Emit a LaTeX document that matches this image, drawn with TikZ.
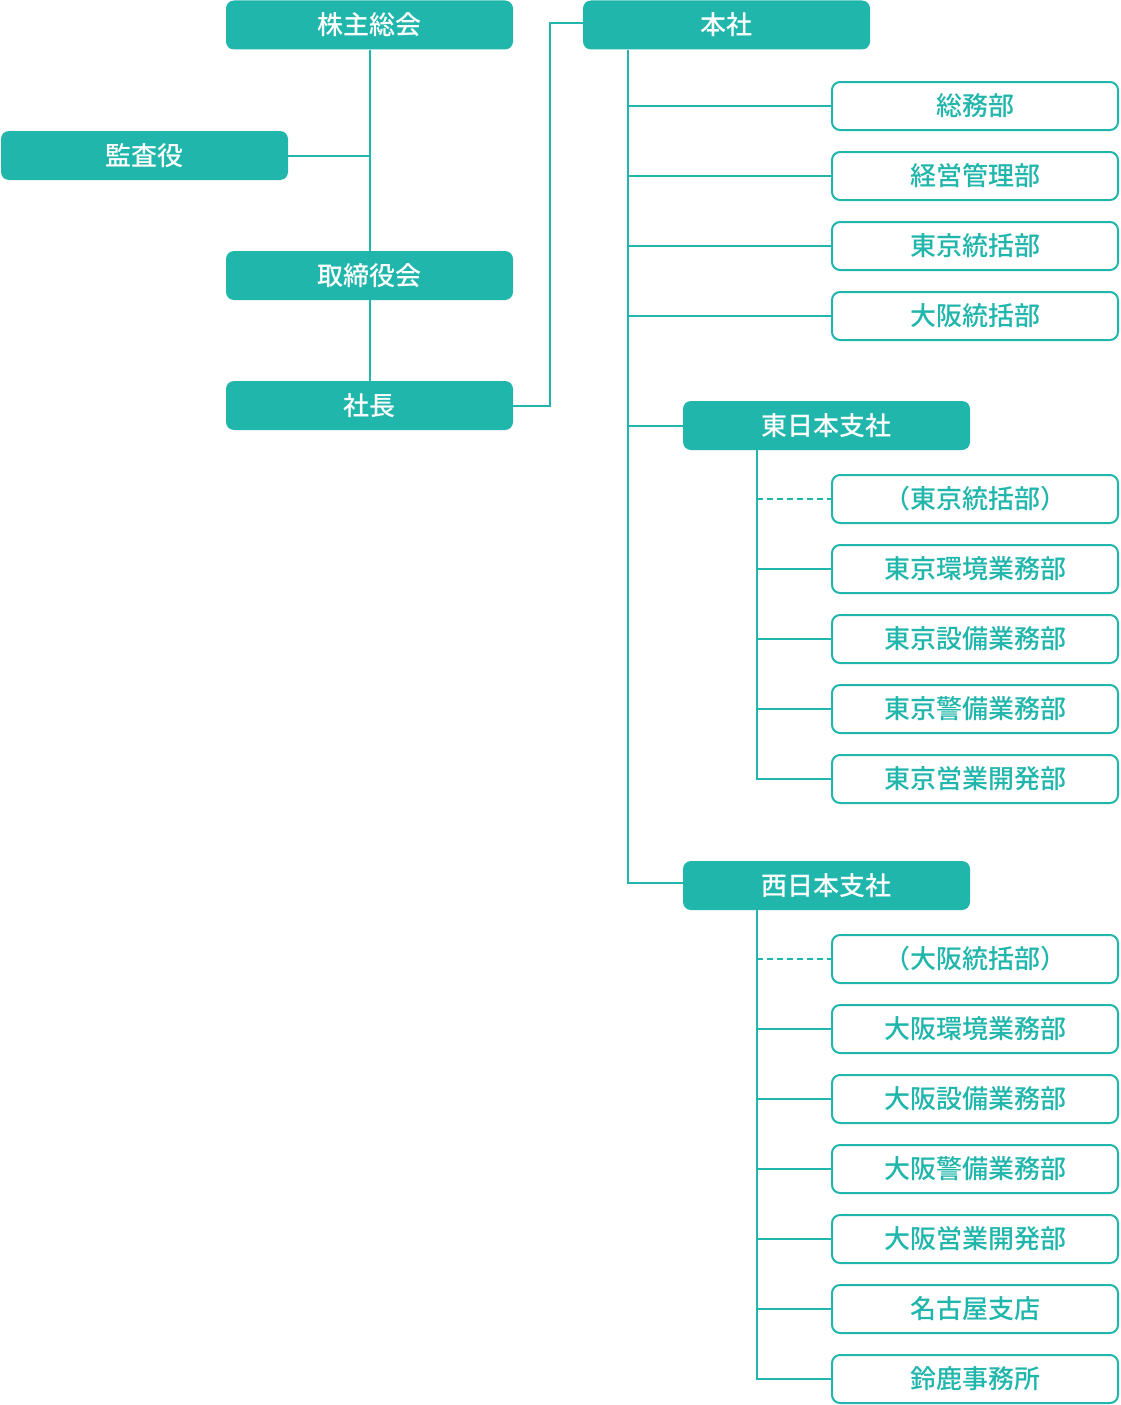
\documentclass[tikz,border=0pt]{standalone}
\usepackage{fontspec}
\setmainfont{Noto Sans CJK JP}[BoldFont={Noto Sans CJK JP Medium}]
\usetikzlibrary{positioning}
\definecolor{orgteal}{RGB}{33,182,172}
\tikzset{
  headbox/.style={
    fill=orgteal,
    rounded corners=8pt,
    inner sep=0pt,
    minimum width=287pt,
    minimum height=49pt,
    text=white,
    font=\fontsize{26}{30}\selectfont\bfseries
  },
  deptbox/.style={
    draw=orgteal,
    line width=2pt,
    fill=white,
    rounded corners=8pt,
    inner sep=0pt,
    minimum width=286pt,
    minimum height=48pt,
    text=orgteal,
    font=\fontsize{26}{30}\selectfont\bfseries
  },
  link/.style={
    draw=orgteal,
    line width=2pt
  }
}

\begin{document}
\begin{tikzpicture}[x=1pt,y=-1pt]
    \useasboundingbox (0,0) rectangle (1120,1405);
    % left column
    \node[headbox] (kabu) at (369.5,25) {株主総会};
    \node[headbox] (kansa) at (144.5,155.5) {監査役};
    \node[headbox] (tori) at (369.5,275.5) {取締役会};
    \node[headbox] (shacho) at (369.5,405.5) {社長};
    % head office and branches
    \node[headbox] (honsha) at (726.5,25) {本社};
    \node[headbox] (east) at (826.5,425.5) {東日本支社};
    \node[headbox] (west) at (826.5,885.5) {西日本支社};
    \foreach \name/\y/\txt in {h1/106/総務部, h2/176/経営管理部, h3/246/東京統括部, h4/316/大阪統括部,
        e0/499/（東京統括部）, e1/569/東京環境業務部, e2/639/東京設備業務部, e3/709/東京警備業務部, e4/779/東京営業開発部,
        w0/959/（大阪統括部）, w1/1029/大阪環境業務部, w2/1099/大阪設備業務部, w3/1169/大阪警備業務部, w4/1239/大阪営業開発部,
        w5/1309/名古屋支店, w6/1379/鈴鹿事務所}{
            \node[deptbox] (\name) at (975,\y) {\txt};
        }
    % connectors
    \draw[link] (kabu) -- (tori);
    \draw[link] (tori) -- (shacho);
    \draw[link] (kansa.east) -- (kansa.east -| kabu.south);
    \draw[link] (shacho.east) -- ++(37,0) |- ([yshift=2pt]honsha.west);
    \coordinate (spine) at ([xshift=45pt]honsha.south west);
    \draw[link] (spine) |- ([yshift=3pt]west.west);
    \draw[link] (spine |- east.west) -- (east.west);
    \foreach \name in {h1,h2,h3,h4}{
            \draw[link] (spine |- \name.west) -- (\name.west);
        }
    \coordinate (espine) at ([xshift=74pt]east.south west);
    \draw[link] (espine) |- (e4.west);
    \draw[link,dash pattern=on 6pt off 4pt] (espine |- e0.west) -- (e0.west);
    \foreach \name in {e1,e2,e3}{
            \draw[link] (espine |- \name.west) -- (\name.west);
        }
    \coordinate (wspine) at ([xshift=74pt]west.south west);
    \draw[link] (wspine) |- (w6.west);
    \draw[link,dash pattern=on 6pt off 4pt] (wspine |- w0.west) -- (w0.west);
    \foreach \name in {w1,w2,w3,w4,w5}{
            \draw[link] (wspine |- \name.west) -- (\name.west);
        }
\end{tikzpicture}
\end{document}
